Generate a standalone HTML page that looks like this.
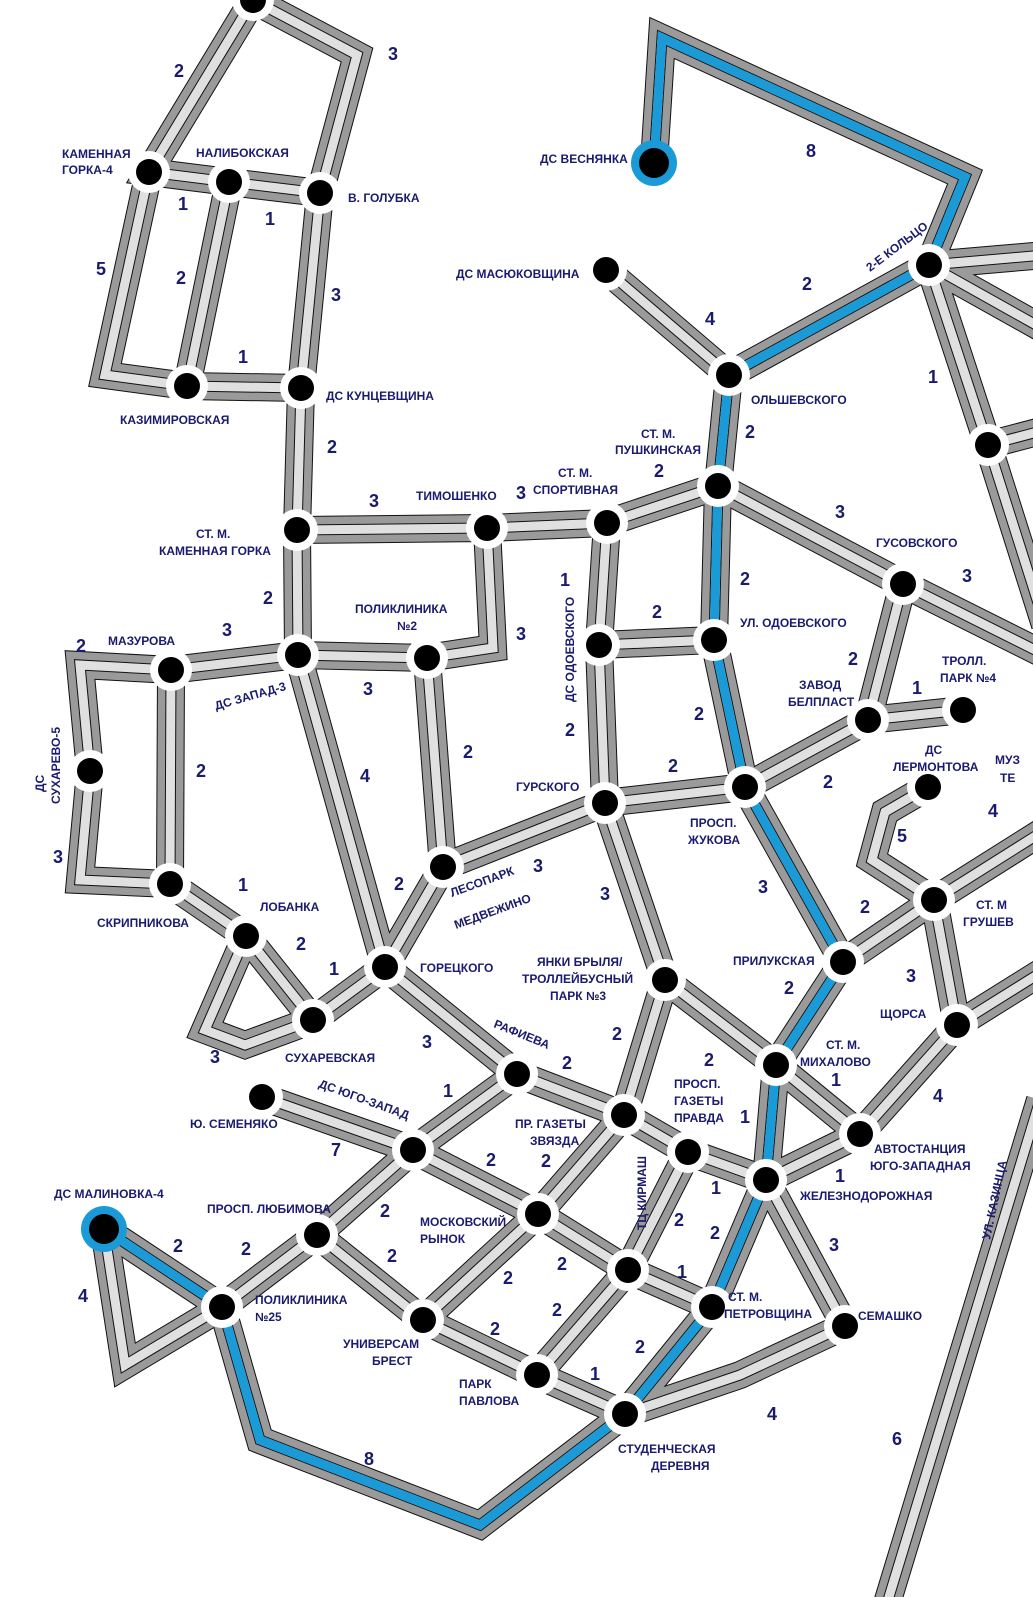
<!DOCTYPE html>
<html><head><meta charset="utf-8"><style>
html,body{margin:0;padding:0;background:#fff;width:1033px;height:1597px;overflow:hidden}
svg{display:block}
text{font-family:"Liberation Sans",sans-serif;fill:#1a1a6e;font-weight:bold}
.s{font-size:12px}
.n{font-size:18px}
</style></head><body>
<svg width="1033" height="1597" viewBox="0 0 1033 1597" xmlns="http://www.w3.org/2000/svg">
<defs>
<path id="r" fill="none" stroke-linejoin="miter" stroke-miterlimit="2" d="
M253,0 L149,172 L229,182 L320,193 L357,55 L253,0
M149,172 L105,375 L187,386 L301,388 L320,193
M229,182 L187,386
M301,388 L297,530 L487,528 L607,523 L718,486 L729,375 L606,270
M729,375 L929,265
M654,163 L662,38 L965,177 L929,265
M929,265 L1045,255
M929,265 L1045,330
M929,265 L988,445 L1045,625
M988,445 L1045,430
M297,530 L298,655 L427,658 L493,648 L487,528
M298,655 L171,670 L80,665 L90,771 L80,880 L170,884 L171,670
M170,884 L246,936 L313,1020 L385,967 L298,655
M246,936 L205,1030 L245,1045 L313,1020
M427,658 L443,867 L385,967
M443,867 L605,803 L745,787 L868,720 L963,710
M868,720 L903,584 L718,486
M903,584 L1045,655
M607,523 L599,645 L605,803
M599,645 L714,640 L718,486
M714,640 L745,787 L843,962 L934,900 L1045,830
M843,962 L776,1065 L860,1134 L957,1025 L934,900
M957,1025 L1045,970
M934,900 L872,860 L885,812 L928,787
M605,803 L665,980 L776,1065
M665,980 L624,1115 L538,1214 L423,1320 L317,1235 L413,1150 L517,1074 L385,967
M517,1074 L624,1115 L688,1152 L766,1180 L860,1134
M413,1150 L262,1097
M413,1150 L538,1214 L628,1270 L712,1307 L766,1180 L776,1065
M317,1235 L222,1307 L104,1229 L125,1365 L222,1307
M423,1320 L537,1375 L625,1414 L712,1307
M537,1375 L628,1270 L688,1152
M625,1414 L740,1375 L845,1326 L766,1180
M625,1414 L480,1525 L260,1440 L222,1307
M1040,1100 L885,1610
"/>
</defs>
<use href="#r" stroke="#111" stroke-width="28"/>
<use href="#r" stroke="#9a9a9a" stroke-width="26"/>
<use href="#r" stroke="#111" stroke-width="11"/>
<use href="#r" stroke="#e0e0e0" stroke-width="9"/>
<path fill="none" stroke="#1a9ad6" stroke-width="9" stroke-linejoin="miter" stroke-miterlimit="2" d="M654,163 L662,38 L965,177 L929,265 L729,375 L718,486 L714,640 L745,787 L843,962 L776,1065 L766,1180 L712,1307 L625,1414 L480,1525 L260,1440 L222,1307 L104,1229"/>
<g fill="#fff">
<circle cx="253" cy="0" r="21"/><circle cx="149" cy="172" r="21"/><circle cx="229" cy="182" r="21"/><circle cx="320" cy="193" r="21"/>
<circle cx="187" cy="386" r="21"/><circle cx="301" cy="388" r="21"/><circle cx="297" cy="530" r="21"/><circle cx="487" cy="528" r="21"/>
<circle cx="607" cy="523" r="21"/><circle cx="718" cy="486" r="21"/><circle cx="729" cy="375" r="21"/><circle cx="606" cy="270" r="21"/>
<circle cx="929" cy="265" r="21"/><circle cx="988" cy="445" r="21"/><circle cx="903" cy="584" r="21"/><circle cx="714" cy="640" r="21"/>
<circle cx="599" cy="645" r="21"/><circle cx="605" cy="803" r="21"/><circle cx="745" cy="787" r="21"/><circle cx="868" cy="720" r="21"/>
<circle cx="963" cy="710" r="21"/><circle cx="928" cy="787" r="21"/><circle cx="934" cy="900" r="21"/><circle cx="957" cy="1025" r="21"/>
<circle cx="843" cy="962" r="21"/><circle cx="776" cy="1065" r="21"/><circle cx="860" cy="1134" r="21"/><circle cx="766" cy="1180" r="21"/>
<circle cx="845" cy="1326" r="21"/><circle cx="712" cy="1307" r="21"/><circle cx="625" cy="1414" r="21"/><circle cx="537" cy="1375" r="21"/>
<circle cx="628" cy="1270" r="21"/><circle cx="688" cy="1152" r="21"/><circle cx="624" cy="1115" r="21"/><circle cx="538" cy="1214" r="21"/>
<circle cx="423" cy="1320" r="21"/><circle cx="517" cy="1074" r="21"/><circle cx="413" cy="1150" r="21"/><circle cx="262" cy="1097" r="21"/>
<circle cx="317" cy="1235" r="21"/><circle cx="222" cy="1307" r="21"/><circle cx="665" cy="980" r="21"/><circle cx="385" cy="967" r="21"/>
<circle cx="443" cy="867" r="21"/><circle cx="427" cy="658" r="21"/><circle cx="298" cy="655" r="21"/><circle cx="171" cy="670" r="21"/>
<circle cx="90" cy="771" r="21"/><circle cx="170" cy="884" r="21"/><circle cx="246" cy="936" r="21"/><circle cx="313" cy="1020" r="21"/>
</g>
<circle cx="654" cy="163" r="23" fill="#1a9ad6"/><circle cx="104" cy="1229" r="23" fill="#1a9ad6"/>
<g fill="#000">
<circle cx="253" cy="0" r="13"/><circle cx="149" cy="172" r="13"/><circle cx="229" cy="182" r="13"/><circle cx="320" cy="193" r="13"/>
<circle cx="187" cy="386" r="13"/><circle cx="301" cy="388" r="13"/><circle cx="297" cy="530" r="13"/><circle cx="487" cy="528" r="13"/>
<circle cx="607" cy="523" r="13"/><circle cx="718" cy="486" r="13"/><circle cx="729" cy="375" r="13"/><circle cx="606" cy="270" r="13"/>
<circle cx="929" cy="265" r="13"/><circle cx="988" cy="445" r="13"/><circle cx="903" cy="584" r="13"/><circle cx="714" cy="640" r="13"/>
<circle cx="599" cy="645" r="13"/><circle cx="605" cy="803" r="13"/><circle cx="745" cy="787" r="13"/><circle cx="868" cy="720" r="13"/>
<circle cx="963" cy="710" r="13"/><circle cx="928" cy="787" r="13"/><circle cx="934" cy="900" r="13"/><circle cx="957" cy="1025" r="13"/>
<circle cx="843" cy="962" r="13"/><circle cx="776" cy="1065" r="13"/><circle cx="860" cy="1134" r="13"/><circle cx="766" cy="1180" r="13"/>
<circle cx="845" cy="1326" r="13"/><circle cx="712" cy="1307" r="13"/><circle cx="625" cy="1414" r="13"/><circle cx="537" cy="1375" r="13"/>
<circle cx="628" cy="1270" r="13"/><circle cx="688" cy="1152" r="13"/><circle cx="624" cy="1115" r="13"/><circle cx="538" cy="1214" r="13"/>
<circle cx="423" cy="1320" r="13"/><circle cx="517" cy="1074" r="13"/><circle cx="413" cy="1150" r="13"/><circle cx="262" cy="1097" r="13"/>
<circle cx="317" cy="1235" r="13"/><circle cx="222" cy="1307" r="13"/><circle cx="665" cy="980" r="13"/><circle cx="385" cy="967" r="13"/>
<circle cx="443" cy="867" r="13"/><circle cx="427" cy="658" r="13"/><circle cx="298" cy="655" r="13"/><circle cx="171" cy="670" r="13"/>
<circle cx="90" cy="771" r="13"/><circle cx="170" cy="884" r="13"/><circle cx="246" cy="936" r="13"/><circle cx="313" cy="1020" r="13"/>
<circle cx="654" cy="163" r="15"/><circle cx="104" cy="1229" r="15"/>
</g>
<g class="s">
<text x="62" y="158">КАМЕННАЯ</text><text x="62" y="174">ГОРКА-4</text>
<text x="196" y="157">НАЛИБОКСКАЯ</text>
<text x="348" y="202">В. ГОЛУБКА</text>
<text x="120" y="424">КАЗИМИРОВСКАЯ</text>
<text x="326" y="400">ДС КУНЦЕВЩИНА</text>
<text x="196" y="538">СТ. М.</text><text x="159" y="555">КАМЕННАЯ ГОРКА</text>
<text x="416" y="500">ТИМОШЕНКО</text>
<text x="558" y="477">СТ. М.</text><text x="533" y="494">СПОРТИВНАЯ</text>
<text x="641" y="438">СТ. М.</text><text x="615" y="454">ПУШКИНСКАЯ</text>
<text x="540" y="163">ДС ВЕСНЯНКА</text>
<text x="456" y="278">ДС МАСЮКОВЩИНА</text>
<text x="751" y="404">ОЛЬШЕВСКОГО</text>
<text x="876" y="547">ГУСОВСКОГО</text>
<text x="740" y="627">УЛ. ОДОЕВСКОГО</text>
<text x="799" y="689">ЗАВОД</text><text x="788" y="706">БЕЛПЛАСТ</text>
<text x="942" y="665">ТРОЛЛ.</text><text x="940" y="682">ПАРК №4</text>
<text x="925" y="754">ДС</text><text x="893" y="771">ЛЕРМОНТОВА</text>
<text x="995" y="764">МУЗ</text><text x="1000" y="782">ТЕ</text>
<text x="976" y="909">СТ. М</text><text x="963" y="926">ГРУШЕВ</text>
<text x="355" y="613">ПОЛИКЛИНИКА</text><text x="397" y="630">№2</text>
<text x="108" y="645">МАЗУРОВА</text>
<text x="516" y="791">ГУРСКОГО</text>
<text x="690" y="827">ПРОСП.</text><text x="688" y="844">ЖУКОВА</text>
<text x="733" y="965">ПРИЛУКСКАЯ</text>
<text x="880" y="1018">ЩОРСА</text>
<text x="826" y="1049">СТ. М.</text><text x="800" y="1066">МИХАЛОВО</text>
<text x="874" y="1153">АВТОСТАНЦИЯ</text><text x="870" y="1170">ЮГО-ЗАПАДНАЯ</text>
<text x="800" y="1200">ЖЕЛЕЗНОДОРОЖНАЯ</text>
<text x="858" y="1320">СЕМАШКО</text>
<text x="728" y="1301">СТ. М.</text><text x="724" y="1318">ПЕТРОВЩИНА</text>
<text x="618" y="1453">СТУДЕНЧЕСКАЯ</text><text x="651" y="1470">ДЕРЕВНЯ</text>
<text x="459" y="1388">ПАРК</text><text x="459" y="1405">ПАВЛОВА</text>
<text x="343" y="1348">УНИВЕРСАМ</text><text x="372" y="1365">БРЕСТ</text>
<text x="420" y="1226">МОСКОВСКИЙ</text><text x="420" y="1243">РЫНОК</text>
<text x="515" y="1128">ПР. ГАЗЕТЫ</text><text x="530" y="1145">ЗВЯЗДА</text>
<text x="674" y="1088">ПРОСП.</text><text x="674" y="1105">ГАЗЕТЫ</text><text x="674" y="1122">ПРАВДА</text>
<text x="537" y="966">ЯНКИ БРЫЛЯ/</text><text x="522" y="983">ТРОЛЛЕЙБУСНЫЙ</text><text x="550" y="1000">ПАРК №3</text>
<text x="420" y="972">ГОРЕЦКОГО</text>
<text x="260" y="911">ЛОБАНКА</text>
<text x="97" y="927">СКРИПНИКОВА</text>
<text x="285" y="1062">СУХАРЕВСКАЯ</text>
<text x="190" y="1128">Ю. СЕМЕНЯКО</text>
<text x="207" y="1213">ПРОСП. ЛЮБИМОВА</text>
<text x="54" y="1198">ДС МАЛИНОВКА-4</text>
<text x="255" y="1304">ПОЛИКЛИНИКА</text><text x="255" y="1321">№25</text>
<text transform="translate(870,272) rotate(-37)">2-Е КОЛЬЦО</text>
<text transform="translate(574,702) rotate(-90)">ДС ОДОЕВСКОГО</text>
<text transform="translate(216,710) rotate(-16)">ДС ЗАПАД-3</text>
<text transform="translate(452,897) rotate(-20)">ЛЕСОПАРК</text><text transform="translate(456,929) rotate(-20)">МЕДВЕЖИНО</text>
<text transform="translate(493,1027) rotate(22)">РАФИЕВА</text>
<text transform="translate(318,1087) rotate(20)">ДС ЮГО-ЗАПАД</text>
<text transform="translate(646,1230) rotate(-90)">ТЦ КИРМАШ</text>
<text transform="translate(44,792) rotate(-90)">ДС</text><text transform="translate(60,804) rotate(-90)">СУХАРЕВО-5</text>
<text transform="translate(990,1240) rotate(-78)">УЛ. КАЗИНЦА</text>
</g>
<g class="n">
<text x="174" y="77">2</text><text x="388" y="60">3</text>
<text x="178" y="210">1</text><text x="265" y="225">1</text>
<text x="96" y="275">5</text><text x="176" y="284">2</text><text x="331" y="301">3</text>
<text x="238" y="363">1</text><text x="327" y="453">2</text>
<text x="369" y="507">3</text><text x="516" y="499">3</text><text x="654" y="477">2</text>
<text x="806" y="157">8</text><text x="802" y="290">2</text><text x="705" y="325">4</text>
<text x="745" y="438">2</text><text x="928" y="383">1</text>
<text x="835" y="518">3</text><text x="962" y="582">3</text>
<text x="560" y="586">1</text><text x="652" y="618">2</text><text x="740" y="585">2</text>
<text x="516" y="640">3</text><text x="263" y="604">2</text><text x="222" y="636">3</text>
<text x="76" y="652">2</text><text x="196" y="777">2</text><text x="53" y="863">3</text>
<text x="363" y="695">3</text><text x="463" y="758">2</text><text x="565" y="736">2</text>
<text x="694" y="720">2</text><text x="668" y="772">2</text><text x="848" y="665">2</text>
<text x="912" y="694">1</text><text x="823" y="788">2</text><text x="897" y="842">5</text>
<text x="988" y="817">4</text><text x="360" y="782">4</text>
<text x="238" y="891">1</text><text x="296" y="950">2</text><text x="329" y="975">1</text>
<text x="210" y="1063">3</text><text x="394" y="890">2</text><text x="533" y="872">3</text>
<text x="600" y="900">3</text><text x="758" y="893">3</text><text x="860" y="913">2</text>
<text x="906" y="982">3</text><text x="784" y="994">2</text><text x="612" y="1040">2</text>
<text x="704" y="1066">2</text><text x="831" y="1086">1</text><text x="933" y="1102">4</text>
<text x="422" y="1048">3</text><text x="562" y="1069">2</text><text x="443" y="1097">1</text>
<text x="331" y="1156">7</text><text x="486" y="1166">2</text><text x="541" y="1167">2</text>
<text x="740" y="1123">1</text><text x="711" y="1194">1</text><text x="835" y="1182">1</text>
<text x="380" y="1217">2</text><text x="173" y="1252">2</text><text x="241" y="1255">2</text>
<text x="387" y="1262">2</text><text x="674" y="1226">2</text><text x="557" y="1270">2</text>
<text x="503" y="1284">2</text><text x="710" y="1239">2</text><text x="829" y="1251">3</text>
<text x="78" y="1302">4</text><text x="677" y="1278">1</text><text x="552" y="1316">2</text>
<text x="490" y="1335">2</text><text x="635" y="1353">2</text><text x="590" y="1380">1</text>
<text x="767" y="1420">4</text><text x="364" y="1465">8</text><text x="892" y="1445">6</text>
</g>
</svg>
</body></html>
